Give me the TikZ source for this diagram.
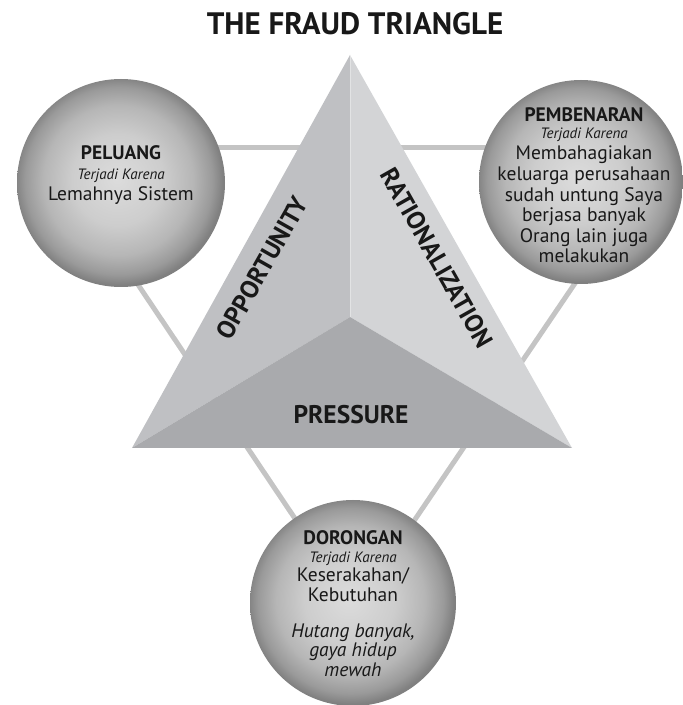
\documentclass[tikz,border=0pt]{standalone}
\usepackage{fontspec}
\setmainfont{PT Sans}
\usetikzlibrary{calc}

\definecolor{inkdark}{HTML}{181818}
\definecolor{linkgray}{HTML}{C4C4C4}
\definecolor{faceleft}{HTML}{BFC0C3}
\definecolor{faceright}{HTML}{D3D4D6}
\definecolor{facebottom}{HTML}{A9AAAD}
\definecolor{orbA}{HTML}{DCDCDC}
\definecolor{orbB}{HTML}{CDCDCD}
\definecolor{orbC}{HTML}{B6B6B6}
\definecolor{orbD}{HTML}{9A9A9A}
\definecolor{orbE}{HTML}{808080}

% light centre fading to a darker rim
\pgfdeclareradialshading{orb}{\pgfpoint{-1bp}{1bp}}{%
  color(0bp)=(orbA); color(11bp)=(orbB); color(18bp)=(orbC);
  color(22.5bp)=(orbD); color(25bp)=(orbE); color(50bp)=(orbE)}

\tikzset{
  orbnode/.style={circle, minimum size=#1, inner sep=0pt, shading=orb},
  orbhead/.style={anchor=base, inner sep=0pt, text=inkdark,
    font=\bfseries\fontsize{19.5}{22}\selectfont},
  orbsub/.style={anchor=base, inner sep=0pt, text=inkdark,
    font=\itshape\fontsize{15}{18}\selectfont},
  % multi-line blocks are placed by the baseline of their last line
  orbbody/.style={anchor=base, inner sep=0pt, text=inkdark, align=center,
    font=\fontsize{19.5}{20.6}\selectfont},
  facelabel/.style={inner sep=0pt, text=inkdark,
    font=\bfseries\fontsize{25.5}{28}\selectfont},
  linkline/.style={draw=linkgray, line width=5pt},
}

\begin{document}
\begin{tikzpicture}[x=1pt, y=1pt]
  \useasboundingbox (0,0) rectangle (683,705);

  % title
  \node[anchor=base, inner sep=0pt, text=inkdark,
        font=\bfseries\fontsize{31}{34}\selectfont] (title) at (355,670)
        {THE FRAUD TRIANGLE};

  % corners of the connector frame behind the circles
  \coordinate (kTL) at (46,557.5);
  \coordinate (kTR) at (667,557.5);
  \coordinate (kB)  at (355,97);
  \draw[linkline] (kTL) -- (kTR);
  \draw[linkline] (kTL) -- (kB);
  \draw[linkline] (kTR) -- (kB);

  % circles
  \node[orbnode=208pt] (peluang)    at (121,522) {};
  \node[orbnode=204pt] (pembenaran) at (581,523) {};
  \node[orbnode=206pt] (dorongan)   at (353,102) {};

  % triangle
  \coordinate (apex) at (350,650);
  \coordinate (tl)   at (132,257);
  \coordinate (tr)   at (572,257);
  \coordinate (mid)  at (350,388);
  \fill[faceleft]   (apex) -- (mid) -- (tl) -- cycle;
  \fill[faceright]  (apex) -- (tr) -- (mid) -- cycle;
  \fill[facebottom] (tl) -- (mid) -- (tr) -- cycle;
  \draw[white, opacity=0.35, line width=1pt] (apex) -- (mid);

  \node[facelabel, rotate=60.5]  (opp) at (262,437) {OPPORTUNITY};
  \node[facelabel, rotate=-60.5] (rat) at (437,447) {RATIONALIZATION};
  \node[facelabel]               (pre) at (351,290) {PRESSURE};

  % PELUANG
  \node[orbhead] (pelH) at (121,545) {PELUANG};
  \node[orbsub]  (pelS) at (121,525) {Terjadi Karena};
  \node[orbbody] (pelB) at (121,504) {Lemahnya Sistem};

  % PEMBENARAN
  \node[orbhead] (pemH) at (584,583) {PEMBENARAN};
  \node[orbsub]  (pemS) at (584,566) {Terjadi Karena};
  \node[orbbody] (pemB) at (584,442) {Membahagiakan\\keluarga perusahaan\\sudah untung Saya\\berjasa banyak\\Orang lain juga\\melakukan};

  % DORONGAN
  \node[orbhead] (dorH) at (353,160) {DORONGAN};
  \node[orbsub]  (dorS) at (353,142) {Terjadi Karena};
  \node[orbbody] (dorB) at (353,103) {Keserakahan/\\Kebutuhan};
  \node[orbbody, font=\itshape\fontsize{19.5}{20}\selectfont] (dorI) at (353,28)
       {Hutang banyak,\\gaya hidup\\mewah};
\end{tikzpicture}
\end{document}
